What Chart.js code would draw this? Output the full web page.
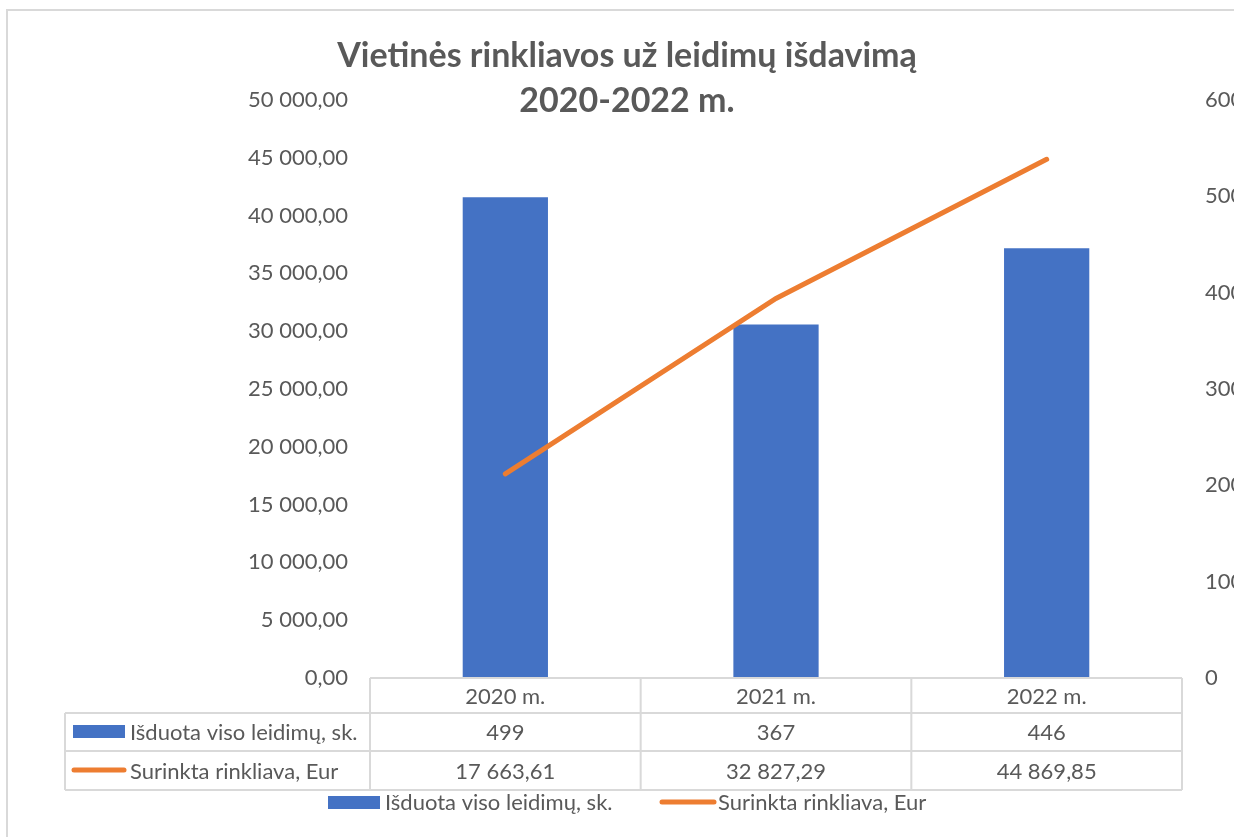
<!DOCTYPE html>
<html>
<head>
<meta charset="utf-8">
<script src="https://cdn.jsdelivr.net/npm/chart.js@4"></script>
<style>
  body { margin: 0; background: #fff; }
</style>
</head>
<body>
<canvas id="canvas1" width="1234" height="837"></canvas>
<script>
const categories = ['2020 m.', '2021 m.', '2022 m.'];
const permits = [499, 367, 446];
const fees = [17663.61, 32827.29, 44869.85];
const seriesNames = ['Išduota viso leidimų, sk.', 'Surinkta rinkliava, Eur'];
const titleLines = ['Vietinės rinkliavos už leidimų išdavimą', '2020-2022 m.'];

const BLUE = '#4472C4';
const ORANGE = '#ED7D31';
const TEXT = '#595959';
const LINES = '#d9d9d9';

function fmt(v, dec) {
    let s = v.toFixed(dec);
    let parts = s.split('.');
    parts[0] = parts[0].replace(/\B(?=(\d{3})+(?!\d))/g, ' ');
    return parts.join(',');
}

// title, data table and legend drawn on the canvas
const extras = {
    id: 'extras',
    afterDraw(chart) {
        const ctx = chart.ctx;
        const x = chart.scales.x;
        const area = chart.chartArea;
        ctx.save();

        // chart frame
        ctx.strokeStyle = LINES;
        ctx.lineWidth = 2;
        ctx.beginPath();
        ctx.moveTo(7, 840);
        ctx.lineTo(7, 10);
        ctx.lineTo(1240, 10);
        ctx.stroke();

        // title
        ctx.fillStyle = TEXT;
        ctx.font = 'bold 34px Lato';
        ctx.textAlign = 'center';
        ctx.textBaseline = 'middle';
        ctx.fillText(titleLines[0], 627, 56);
        ctx.fillText(titleLines[1], 627, 101);

        // data table
        const rows = [area.bottom, 713, 751, 790];
        const left = 65;
        ctx.strokeStyle = LINES;
        ctx.lineWidth = 2;
        ctx.beginPath();
        ctx.moveTo(area.left, rows[0]); ctx.lineTo(area.right, rows[0]);
        for (let r = 1; r < rows.length; r++) {
            ctx.moveTo(left, rows[r]); ctx.lineTo(area.right, rows[r]);
        }
        ctx.moveTo(left, rows[1]); ctx.lineTo(left, rows[3]);
        const bounds = [area.left];
        for (let i = 0; i < categories.length; i++) {
            bounds.push(i < categories.length - 1
                ? (x.getPixelForValue(i) + x.getPixelForValue(i + 1)) / 2
                : area.right);
        }
        bounds.forEach(b => { ctx.moveTo(b, rows[0]); ctx.lineTo(b, rows[3]); });
        ctx.stroke();

        ctx.font = '22px Lato';
        ctx.fillStyle = TEXT;
        ctx.textAlign = 'center';
        categories.forEach((c, i) => {
            const cx = x.getPixelForValue(i);
            ctx.fillText(c, cx, (rows[0] + rows[1]) / 2 + 1);
            ctx.fillText(fmt(permits[i], 0), cx, (rows[1] + rows[2]) / 2 + 1);
            ctx.fillText(fmt(fees[i], 2), cx, (rows[2] + rows[3]) / 2 + 1);
        });

        // row keys
        ctx.textAlign = 'left';
        ctx.fillStyle = BLUE;
        ctx.fillRect(73, 725, 52, 13);
        ctx.fillStyle = TEXT;
        ctx.fillText(seriesNames[0], 130, (rows[1] + rows[2]) / 2 + 1);
        ctx.strokeStyle = ORANGE;
        ctx.lineWidth = 5;
        ctx.lineCap = 'round';
        ctx.beginPath();
        ctx.moveTo(74, 770); ctx.lineTo(124, 770);
        ctx.stroke();
        ctx.fillText(seriesNames[1], 130, (rows[2] + rows[3]) / 2 + 1);

        // legend
        ctx.fillStyle = BLUE;
        ctx.fillRect(328, 796, 52, 13);
        ctx.fillStyle = TEXT;
        ctx.fillText(seriesNames[0], 385, 803);
        ctx.beginPath();
        ctx.moveTo(662, 802); ctx.lineTo(714, 802);
        ctx.stroke();
        ctx.fillText(seriesNames[1], 718, 803);

        ctx.restore();
    }
};

Chart.defaults.font.family = 'Lato';
Chart.defaults.color = TEXT;

const data = {
    labels: categories,
    datasets: [{
        type: 'line',
        label: seriesNames[1],
        data: fees,
        yAxisID: 'y',
        borderColor: ORANGE,
        borderWidth: 5,
        borderCapStyle: 'round',
        pointRadius: 0,
        tension: 0,
        order: 0
    }, {
        type: 'bar',
        label: seriesNames[0],
        data: permits,
        yAxisID: 'y1',
        backgroundColor: BLUE,
        barPercentage: 0.315,
        categoryPercentage: 1,
        order: 1
    }]
};

const config = {
    type: 'bar',
    data: data,
    options: {
        responsive: false,
        animation: false,
        layout: { padding: { top: 100, bottom: 159, left: 0, right: 0 } },
        plugins: {
            legend: { display: false },
            title: { display: false },
            tooltip: { enabled: false }
        },
        scales: {
            x: { display: false, offset: true },
            y: {
                position: 'left',
                min: 0,
                max: 50000,
                grid: { display: false, drawTicks: false },
                border: { display: false },
                ticks: {
                    stepSize: 5000,
                    padding: 22,
                    font: { size: 22 },
                    callback: v => fmt(v, 2)
                },
                afterFit: s => { s.width = 370; }
            },
            y1: {
                position: 'right',
                min: 0,
                max: 600,
                grid: { display: false, drawTicks: false },
                border: { display: false },
                ticks: {
                    stepSize: 100,
                    padding: 23,
                    font: { size: 22 }
                },
                afterFit: s => { s.width = 52; }
            }
        }
    },
    plugins: [extras]
};

const chart = new Chart(document.getElementById('canvas1'), config);
</script>
</body>
</html>
